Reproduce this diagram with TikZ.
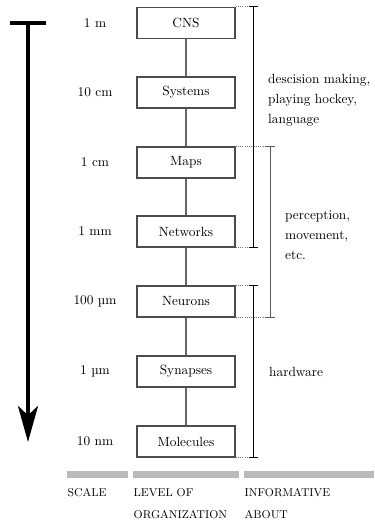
\documentclass[tikz,border=0pt]{standalone}
\usetikzlibrary{arrows.meta,calc}

\begin{document}
\begin{tikzpicture}[x=0.75pt,y=-0.75pt,font=\fontsize{10}{15}\selectfont,
lvl/.style={draw=black!70,line width=.8pt,minimum width=73.5pt,minimum height=23.25pt,inner sep=0pt},
link/.style={draw=black!60,line width=.9pt},
dotline/.style={draw=black!55,densely dotted,line width=.7pt},
brk/.style={line width=.7pt},
bar/.style={draw=black!27,line width=5.25pt},
head/.style={font=\fontsize{8.5}{16.5}\selectfont,anchor=west,align=left}]
\useasboundingbox (0,0) rectangle (374,520);
% levels and their scales
\foreach \n/\y/\t/\s in {cns/23/CNS/1 m,sys/92.5/Systems/10 cm,maps/162.5/Maps/1 cm,net/231.5/Networks/1 mm,neur/301.5/Neurons/100 µm,syn/371.5/Synapses/1 µm,mol/441.5/Molecules/10 nm}{\node[lvl] (\n) at (186,\y){\t};\node (s\n) at (95,\y){\s};}
\foreach \a/\b in {cns/sys,sys/maps,maps/net,net/neur,neur/syn,syn/mol}{\draw[link] (\a) -- (\b);}
% scale arrow
\draw[line width=3pt] (10,23) -- (46,23);
\draw[line width=3pt,-{Stealth[length=27pt,width=15pt,inset=7pt]}] (28,23) -- (28,442);
% brackets
\draw[dotline] (cns.north east) -- ++(13,0) coordinate (a1);
\draw[dotline] (net.south east) -- ++(13,0) coordinate (a2);
\draw[brk] (a1) -- ++(9,0) ($(a1)+(4.5,0)$) -- ($(a2)+(4.5,0)$) (a2) -- ++(9,0);
\draw[dotline] (maps.north east) -- ++(30,0) coordinate (b1);
\draw[dotline] (neur.south east) -- ++(30,0) coordinate (b2);
\draw[brk,black!65] (b1) -- ++(9,0) ($(b1)+(4.5,0)$) -- ($(b2)+(4.5,0)$) (b2) -- ++(9,0);
\draw[dotline] (neur.north east) -- ++(13,0) coordinate (c1);
\draw[dotline] (mol.south east) -- ++(13,0) coordinate (c2);
\draw[brk] (c1) -- ++(9,0) ($(c1)+(4.5,0)$) -- ($(c2)+(4.5,0)$) (c2) -- ++(9,0);
\node[anchor=west,align=left] (l1) at (263.5,100) {descision making,\\playing hockey,\\language};
\node[anchor=west,align=left] (l2) at (280.5,235) {perception,\\movement,\\etc.};
\node[anchor=west] (l3) at (264.5,372) {hardware};
% column heads
\draw[bar] (67,474.5) -- (128,474.5);
\draw[bar] (133,474.5) -- (239,474.5);
\draw[bar] (244,474.5) -- (374,474.5);
\node[head] (h1) at (63,493) {SCALE};
\node[head] (h2) at (129,504) {LEVEL OF\\ORGANIZATION};
\node[head] (h3) at (240,504) {INFORMATIVE\\ABOUT};
\end{tikzpicture}
\end{document}
